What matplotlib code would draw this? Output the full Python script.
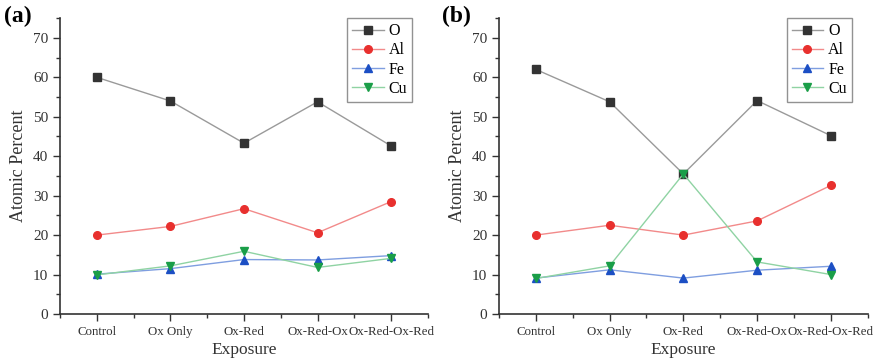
import matplotlib
matplotlib.use("Agg")
import matplotlib.pyplot as plt
from matplotlib.ticker import MultipleLocator, FixedLocator

plt.rcParams['font.family'] = ['Liberation Serif', 'DejaVu Serif']

categories = ["Control", "Ox Only", "Ox-Red", "Ox-Red-Ox", "Ox-Red-Ox-Red"]
series_names = ["O", "Al", "Fe", "Cu"]

a_O = [60.0, 54.0, 43.3, 53.8, 42.6]
a_Al = [20.0, 22.2, 26.7, 20.6, 28.5]
a_Fe = [10.1, 11.5, 13.8, 13.7, 14.8]
a_Cu = [9.9, 12.2, 15.9, 11.8, 14.1]

b_O = [62.0, 53.8, 35.5, 54.1, 45.2]
b_Al = [20.0, 22.5, 20.0, 23.6, 32.6]
b_Fe = [9.1, 11.2, 9.1, 11.1, 12.1]
b_Cu = [9.0, 12.2, 35.5, 13.2, 10.0]

marker_colors = ["#333333", "#e8302e", "#1c4fc4", "#1a9e48"]
line_colors = ["#9a9a9a", "#f28a8a", "#7f9ee0", "#8fd3a3"]
markers = ["s", "o", "^", "v"]

fig = plt.figure(figsize=(8.76, 3.63), dpi=100)
ax_a = fig.add_axes([0.0685, 0.135, 0.42, 0.815])
ax_b = fig.add_axes([0.5696, 0.135, 0.421, 0.815])

panels = [(ax_a, [a_O, a_Al, a_Fe, a_Cu], "(a)", 0.004),
          (ax_b, [b_O, b_Al, b_Fe, b_Cu], "(b)", 0.505)]

for ax, data, tag, tx in panels:
    x = list(range(len(categories)))
    for vals, name, mc, lc, mk in zip(data, series_names, marker_colors, line_colors, markers):
        ax.plot(x, vals, color=lc, lw=1.0, marker=mk, markersize=5.5,
                markerfacecolor=mc, markeredgecolor=mc, label=name)
    ax.set_xlim(-0.5, 4.5)
    ax.set_ylim(0, 75)
    ax.set_xticks(x)
    ax.set_xticklabels(categories, fontsize=9.3, color="#333333")
    ax.xaxis.set_minor_locator(FixedLocator([i + 0.5 for i in range(-1, 5)]))
    ax.yaxis.set_major_locator(FixedLocator([0, 10, 20, 30, 40, 50, 60, 70]))
    ax.yaxis.set_minor_locator(MultipleLocator(5))
    ax.tick_params(axis='y', labelsize=11, colors="#333333")
    ax.tick_params(which='major', direction='out', length=5, width=1, color="#333333")
    ax.tick_params(which='minor', direction='out', length=3, width=1, color="#333333")
    for s in ["top", "right"]:
        ax.spines[s].set_visible(False)
    for s in ["left", "bottom"]:
        ax.spines[s].set_linewidth(1.2)
        ax.spines[s].set_color("#333333")
    ax.set_xlabel("Exposure", fontsize=12.5, color="#333333", labelpad=3)
    ax.set_ylabel("Atomic Percent", fontsize=13, color="#333333", labelpad=4)
    leg = ax.legend(loc="upper right", bbox_to_anchor=(0.965, 1.01), fontsize=11.5,
                    frameon=True, fancybox=False, edgecolor="#777777",
                    handlelength=2.0, handletextpad=0.3, labelspacing=0.2,
                    borderpad=0.3, borderaxespad=0.2)
    leg.get_frame().set_linewidth(1.0)
    fig.text(tx, 0.985, tag, fontsize=17, fontweight="bold", va="top", ha="left")

fig.savefig("out.png", dpi=100)
